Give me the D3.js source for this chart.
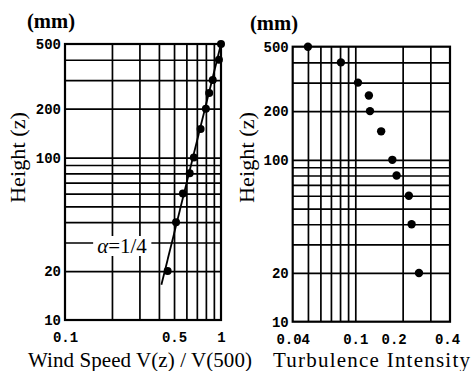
<!DOCTYPE html>
<html><head><meta charset="utf-8">
<script src="https://cdn.jsdelivr.net/npm/d3@7"></script>
<style>
html,body{margin:0;padding:0;background:#fff;}
svg{display:block;}
</style></head>
<body>
<script>
// ---- data ----
const heights = [500, 400, 300, 250, 200, 150, 100, 80, 60, 40, 20];
const windSpeed = [1.0, 0.97, 0.885, 0.84, 0.80, 0.74, 0.67, 0.63, 0.57, 0.515, 0.455];
const turbulence = [0.050, 0.081, 0.104, 0.122, 0.124, 0.146, 0.172, 0.183, 0.219, 0.228, 0.254];
const powerLineV = [0.415, 1.0];
const powerLineZ = [16.5, 500];
const yGridValues = [20, 30, 40, 50, 60, 70, 80, 90, 100, 200, 300, 400];
const yTickLabels = [10, 20, 100, 200, 500];
const windGrid = [0.2, 0.3, 0.4, 0.5, 0.6, 0.7, 0.8, 0.9];
const windTicks = [0.1, 0.5, 1];
const turbGrid = [0.05, 0.06, 0.07, 0.08, 0.09, 0.1, 0.2, 0.3];
const turbTicks = [0.04, 0.1, 0.2, 0.4];

const W = 473, H = 371;
const svg = d3.select("body").append("svg").attr("width", W).attr("height", H);

const tickFont = "'Liberation Mono', 'DejaVu Sans Mono', monospace";
const serif = "'Liberation Serif', 'DejaVu Serif', serif";

function panel(opts) {
  const x = d3.scaleLog().domain(opts.xDomain).range([opts.x0, opts.x1]);
  const y = d3.scaleLog().domain([10, 500]).range([opts.y1, opts.y0]);
  const g = svg.append("g");

  const gridX = g.append("g").attr("transform", `translate(0,${opts.y1})`)
    .call(d3.axisBottom(x).tickValues(opts.grid).tickSize(-(opts.y1 - opts.y0)).tickFormat(""));
  const gridY = g.append("g").attr("transform", `translate(${opts.x0},0)`)
    .call(d3.axisLeft(y).tickValues(yGridValues).tickSize(-(opts.x1 - opts.x0)).tickFormat(""));
  [gridX, gridY].forEach(a => {
    a.select(".domain").remove();
    a.selectAll("line").attr("stroke", "#000").attr("stroke-width", 1.7);
  });

  g.append("rect").attr("x", opts.x0).attr("y", opts.y0)
    .attr("width", opts.x1 - opts.x0).attr("height", opts.y1 - opts.y0)
    .attr("fill", "none").attr("stroke", "#000").attr("stroke-width", 2.2);

  const ax = g.append("g").attr("transform", `translate(0,${opts.y1})`)
    .call(d3.axisBottom(x).tickValues(opts.ticks).tickSize(0).tickPadding(12)
      .tickFormat(d => String(d)));
  const ay = g.append("g").attr("transform", `translate(${opts.x0},0)`)
    .call(d3.axisLeft(y).tickValues(yTickLabels).tickSize(0).tickPadding(4)
      .tickFormat(d => String(d)));
  [ax, ay].forEach(a => {
    a.select(".domain").remove();
    a.selectAll("text").attr("font-family", tickFont).attr("font-weight", "bold")
      .attr("font-size", 14).attr("fill", "#000");
  });
  if (opts.labelShift) {
    ax.selectAll(".tick").filter(d => opts.labelShift[d] !== undefined)
      .select("text").attr("dx", d => opts.labelShift[d]);
  }

  g.append("text").attr("x", opts.mmX).attr("y", opts.mmY)
    .attr("text-anchor", "middle").attr("font-family", serif).attr("font-weight", "bold")
    .attr("font-size", 20).attr("textLength", 48).attr("lengthAdjust", "spacingAndGlyphs")
    .text("(mm)");

  g.append("text").attr("transform", `translate(${opts.ytX},157.5) rotate(-90)`)
    .attr("text-anchor", "middle").attr("dominant-baseline", "central")
    .attr("font-family", serif).attr("font-size", 22)
    .attr("textLength", 91).attr("lengthAdjust", "spacingAndGlyphs")
    .text("Height (z)");

  g.append("text").attr("x", opts.xtX).attr("y", 367)
    .attr("text-anchor", "middle").attr("font-family", serif).attr("font-size", 21)
    .attr("textLength", opts.xtLen).attr("lengthAdjust", "spacing")
    .text(opts.xTitle);

  return {g, x, y};
}

// Left panel
const L = panel({
  xDomain: [0.1, 1], x0: 65, x1: 221, y0: 44, y1: 320,
  grid: windGrid, ticks: windTicks,
  mmX: 51, mmY: 28, ytX: 17, xtX: 140, xtLen: 224,
  xTitle: "Wind Speed V(z) / V(500)"
});

const lineData = powerLineV.map((v, i) => ({v, z: powerLineZ[i]}));
L.g.append("path").datum(lineData)
  .attr("d", d3.line().x(d => L.x(d.v)).y(d => L.y(d.z)))
  .attr("stroke", "#000").attr("stroke-width", 1.8).attr("fill", "none");

L.g.selectAll("circle.ws").data(heights.map((h, i) => ({h, v: windSpeed[i]})))
  .join("circle").attr("class", "ws")
  .attr("cx", d => L.x(d.v)).attr("cy", d => L.y(d.h)).attr("r", 4).attr("fill", "#000");

// alpha label
const lab = L.g.append("g").attr("transform", "translate(122,246)");
const lt = lab.append("text").attr("text-anchor", "middle").attr("dominant-baseline", "central")
  .attr("font-family", serif).attr("font-size", 21);
lt.append("tspan").attr("font-style", "italic").text("α");
lt.append("tspan").text("=1/4");
const bb = lt.node().getBBox();
lab.insert("rect", "text").attr("x", bb.x - 4).attr("y", bb.y + 2)
  .attr("width", bb.width + 8).attr("height", bb.height - 4).attr("fill", "#fff");

// Right panel
const R = panel({
  xDomain: [0.04, 0.4], x0: 292.7, x1: 450, y0: 46.7, y1: 321.7,
  grid: turbGrid, ticks: turbTicks, labelShift: {0.2: -9, 0.4: -3},
  mmX: 274, mmY: 30, ytX: 246, xtX: 371.5, xtLen: 197,
  xTitle: "Turbulence Intensity"
});

R.g.selectAll("circle.ti").data(heights.map((h, i) => ({h, v: turbulence[i]})))
  .join("circle").attr("class", "ti")
  .attr("cx", d => R.x(d.v)).attr("cy", d => R.y(d.h)).attr("r", 4.2).attr("fill", "#000");
</script>
</body></html>
